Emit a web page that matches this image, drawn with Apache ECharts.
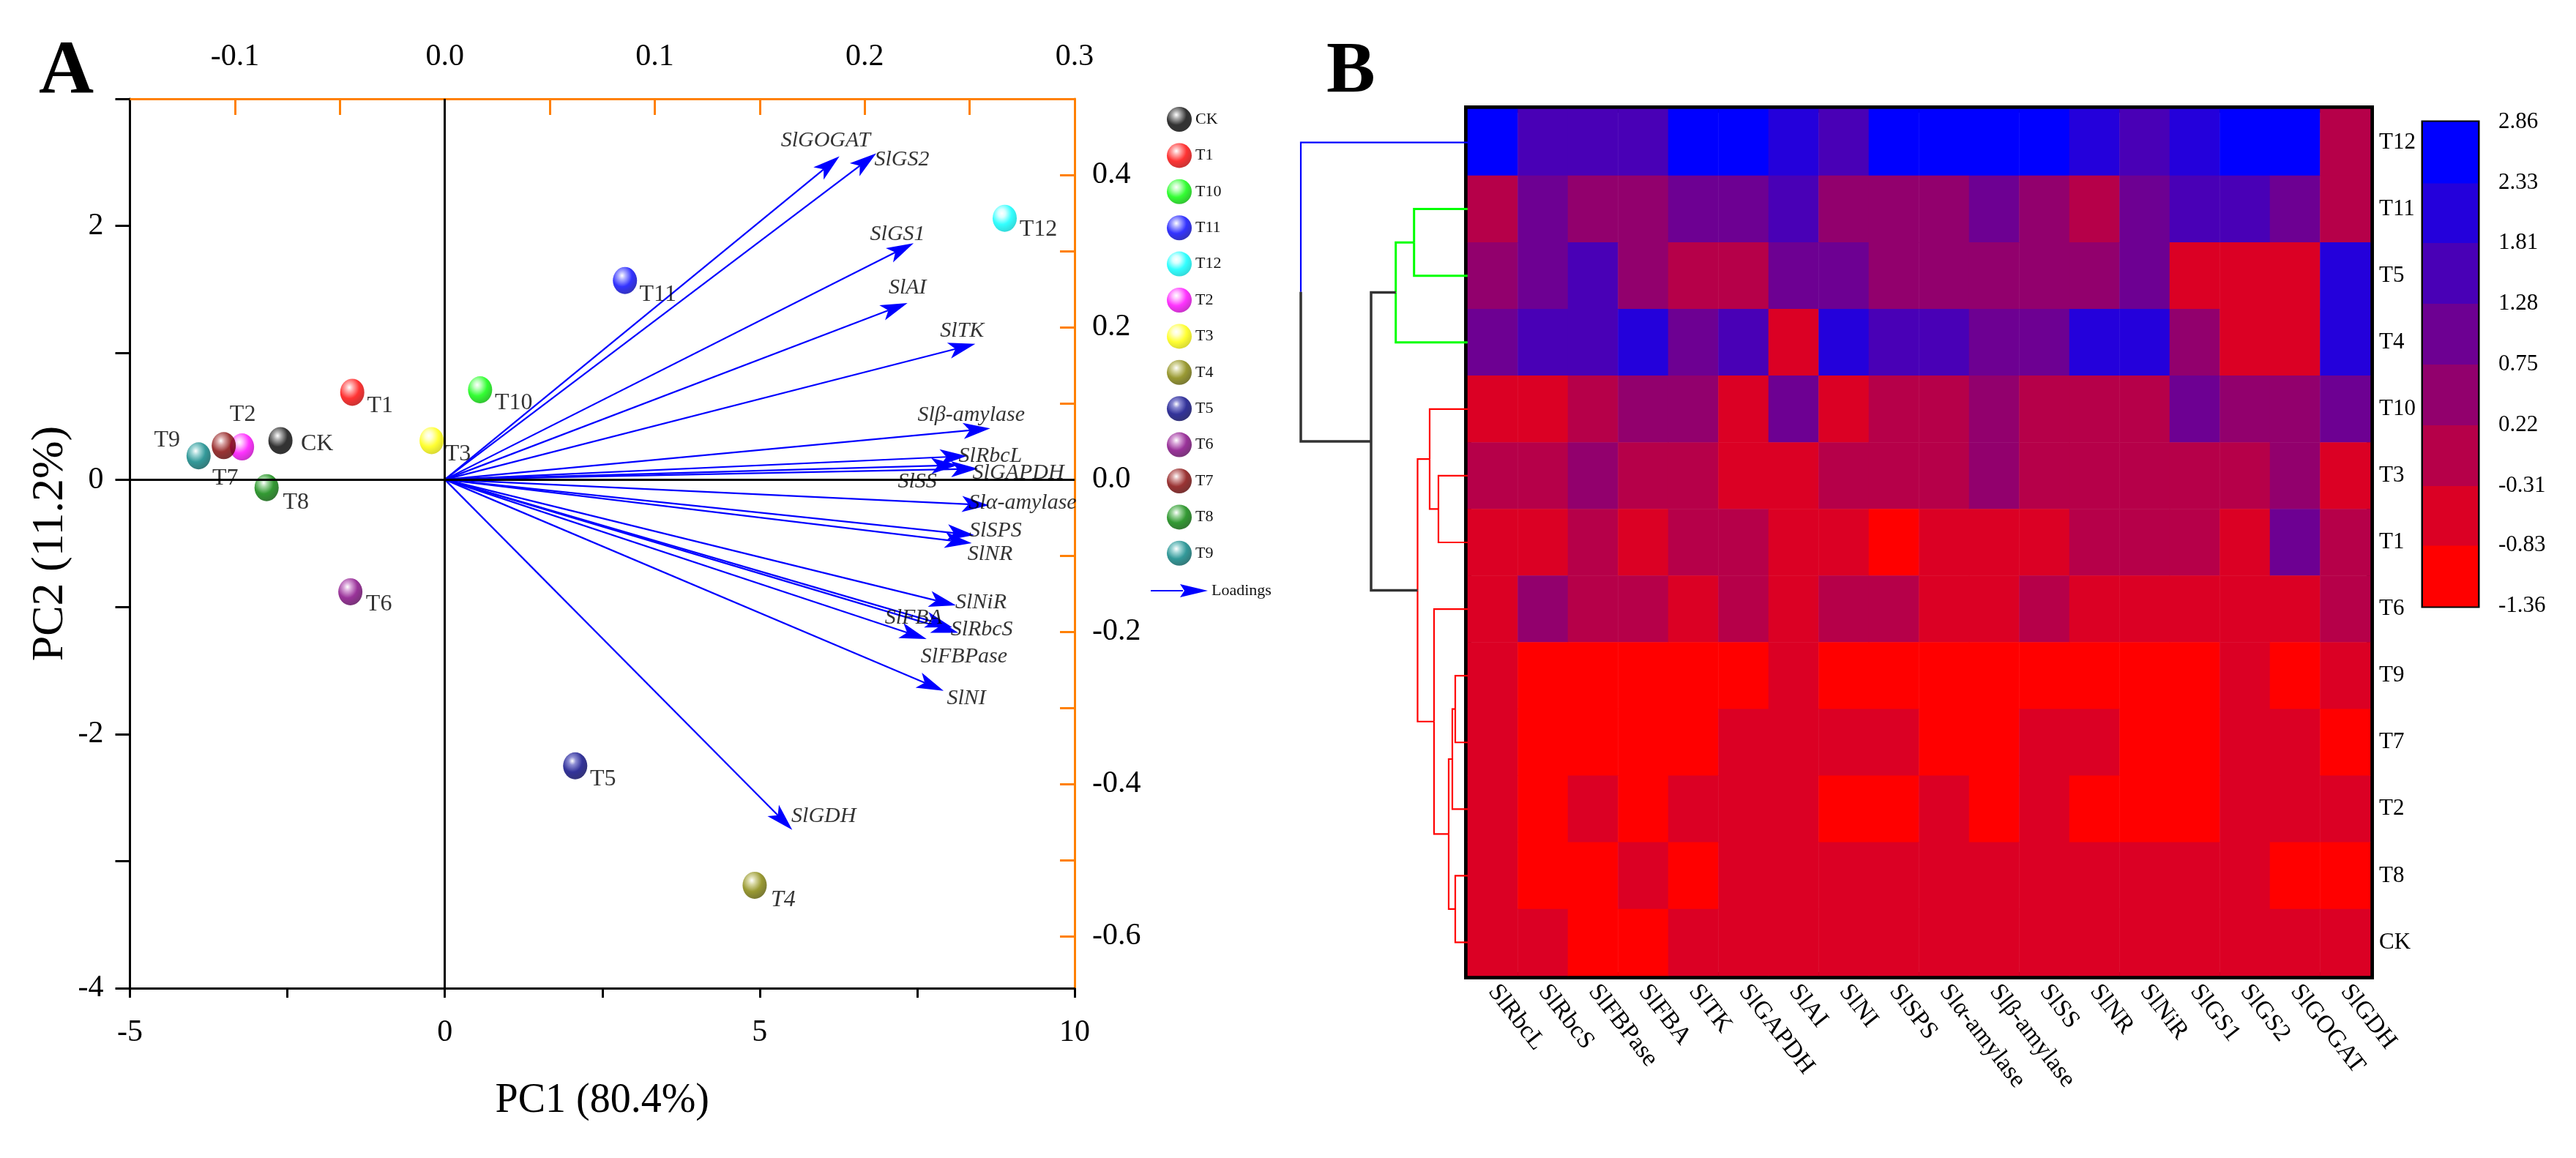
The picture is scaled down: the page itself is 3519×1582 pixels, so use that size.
<!DOCTYPE html>
<html><head><meta charset="utf-8">
<script src="https://cdn.jsdelivr.net/npm/echarts@6/dist/echarts.min.js"></script>
<style>html,body{margin:0;padding:0;background:#fff}#chart{width:3519px;height:1582px}</style>
</head><body><div id="chart"></div>
<script>
// ---------------- DATA ----------------
const sampleNames = ['CK','T1','T10','T11','T12','T2','T3','T4','T5','T6','T7','T8','T9'];
const pc1Scores  = [-2.61,-1.47,0.56,2.86,8.89,-3.22,-0.21,4.92,2.07,-1.50,-3.51,-2.83,-3.91];
const pc2Scores  = [0.31,0.69,0.71,1.57,2.06,0.26,0.31,-3.19,-2.25,-0.88,0.27,-0.06,0.19];

const loadingNames = ['SlGOGAT','SlGS2','SlGS1','SlAI','SlTK','Slβ-amylase','SlRbcL','SlGAPDH','SlSS','Slα-amylase','SlSPS','SlNR','SlNiR','SlFBA','SlRbcS','SlFBPase','SlNI','SlGDH'];
const loadingPC1 = [0.188,0.2055,0.2233,0.2204,0.2527,0.2598,0.2487,0.254,0.2446,0.2592,0.2522,0.251,0.2435,0.2417,0.2446,0.2295,0.2376,0.1655];
const loadingPC2 = [0.4245,0.4283,0.3105,0.2317,0.1781,0.0671,0.0309,0.0142,0.019,-0.0338,-0.073,-0.0835,-0.1653,-0.194,-0.2012,-0.2095,-0.2774,-0.46];

const pc1Ticks = [-5,-2.5,0,2.5,5,7.5,10];
const pc1Labels = [-5,0,5,10];
const pc2Ticks = [-4,-3,-2,-1,0,1,2,3];
const pc2Labels = [-4,-2,0,2];
const load1Ticks = [-0.1,-0.05,0,0.05,0.1,0.15,0.2,0.25];
const load1Labels = [-0.1,0,0.1,0.2,0.3];
const load2Ticks = [-0.6,-0.5,-0.4,-0.3,-0.2,-0.1,0,0.1,0.2,0.3,0.4];
const load2Labels = [-0.6,-0.4,-0.2,0,0.2,0.4];

const heatCols = ['SlRbcL','SlRbcS','SlFBPase','SlFBA','SlTK','SlGAPDH','SlAI','SlNI','SlSPS','Slα-amylase','Slβ-amylase','SlSS','SlNR','SlNiR','SlGS1','SlGS2','SlGOGAT','SlGDH'];
const heatRows = ['T12','T11','T5','T4','T10','T3','T1','T6','T9','T7','T2','T8','CK'];
const heatT12 = [2.6,1.55,1.55,1.55,2.6,2.6,2.07,1.55,2.6,2.6,2.6,2.6,2.07,1.55,2.07,2.6,2.6,-0.05];
const heatT11 = [-0.05,1.0,0.48,0.48,1.0,1.0,1.55,0.48,0.48,0.48,1.0,0.48,-0.05,1.0,1.55,1.55,1.0,-0.05];
const heatT5  = [0.48,1.0,1.55,0.48,-0.05,-0.05,1.0,1.0,0.48,0.48,0.48,0.48,0.48,1.0,-0.57,-0.57,-0.57,2.07];
const heatT4  = [1.0,1.55,1.55,2.07,1.0,1.55,-0.57,2.07,1.55,1.55,1.0,1.0,2.07,2.07,0.48,-0.57,-0.57,2.07];
const heatT10 = [-0.57,-0.57,-0.05,0.48,0.48,-0.57,1.0,-0.57,-0.05,-0.05,0.48,-0.05,-0.05,-0.05,1.0,0.48,0.48,1.0];
const heatT3  = [-0.05,-0.05,0.48,-0.05,-0.05,-0.57,-0.57,-0.05,-0.05,-0.05,0.48,-0.05,-0.05,-0.05,-0.05,-0.05,0.48,-0.57];
const heatT1  = [-0.57,-0.57,-0.05,-0.57,-0.05,-0.05,-0.57,-0.57,-1.1,-0.57,-0.57,-0.57,-0.05,-0.05,-0.05,-0.57,1.0,-0.05];
const heatT6  = [-0.57,0.48,-0.05,-0.05,-0.57,-0.05,-0.57,-0.05,-0.05,-0.57,-0.57,-0.05,-0.57,-0.57,-0.57,-0.57,-0.57,-0.05];
const heatT9  = [-0.57,-1.1,-1.1,-1.1,-1.1,-1.1,-0.57,-1.1,-1.1,-1.1,-1.1,-1.1,-1.1,-1.1,-1.1,-0.57,-1.1,-0.57];
const heatT7  = [-0.57,-1.1,-1.1,-1.1,-1.1,-0.57,-0.57,-0.57,-0.57,-1.1,-1.1,-0.57,-0.57,-1.1,-1.1,-0.57,-0.57,-1.1];
const heatT2  = [-0.57,-1.1,-0.57,-1.1,-0.57,-0.57,-0.57,-1.1,-1.1,-0.57,-1.1,-0.57,-1.1,-1.1,-1.1,-0.57,-0.57,-0.57];
const heatT8  = [-0.57,-1.1,-1.1,-0.57,-1.1,-0.57,-0.57,-0.57,-0.57,-0.57,-0.57,-0.57,-0.57,-0.57,-0.57,-0.57,-1.1,-1.1];
const heatCK  = [-0.57,-0.57,-1.1,-1.1,-0.57,-0.57,-0.57,-0.57,-0.57,-0.57,-0.57,-0.57,-0.57,-0.57,-0.57,-0.57,-0.57,-0.57];
const heatMatrix = [heatT12,heatT11,heatT5,heatT4,heatT10,heatT3,heatT1,heatT6,heatT9,heatT7,heatT2,heatT8,heatCK];

const colorBreaks = [-1.36,-0.83,-0.31,0.22,0.75,1.28,1.81,2.33,2.86];

// dendrogram merges (row clustering): node = [left child, right child] at height
const dendroNodes  = ['G','H','F','E','C','D','B','R','Gi','Go','A','Root'];
const dendroLeft   = ['T9','T8','G','F','T3','T6','T10','B','T11','Gi','Go','T12'];
const dendroRight  = ['T7','CK','T2','H','T1','E','C','D','T5','T4','R','A'];
const dendroHeight = [1.7,1.7,2.1,2.6,4.0,4.6,5.2,6.85,7.33,9.83,13.2,22.8];

// ---------------- STYLE ----------------
const FONT = 'Liberation Serif';
const heatColors = ['#FF0000','#DB0024','#B60049','#92006D','#6D0092','#4900B6','#2400DB','#0000FF'];
const sphereColors = {
  CK:['#000000','#9a9a9a','#000000'], T1:['#ff0000','#ff9a9a','#b00000'], T10:['#00ff00','#b0ffb0','#00a800'],
  T11:['#0000ff','#9a9aff','#0000a0'], T12:['#00ffff','#d0ffff','#00c8c8'], T2:['#ff00ff','#ffb0ff','#b000b0'],
  T3:['#ffff00','#ffffc0','#c8c800'], T4:['#808000','#d0d090','#505000'], T5:['#000080','#7070c8','#000050'],
  T6:['#800080','#d090d0','#500050'], T7:['#800000','#d09090','#500000'], T8:['#008000','#90d090','#005000'],
  T9:['#008080','#90d0d0','#005050']
};
const sampleLabelOffset = {CK:[50,5],T1:[38,19],T10:[46,18],T11:[45,19],T12:[46,15],T2:[1,-44],T3:[36,19],
  T4:[39,20],T5:[38,18],T6:[39,17],T7:[2,45],T8:[40,20],T9:[-43,-21]};
const loadingLabelOffset = {'SlGOGAT':[-19,-21],'SlGS2':[35,9],'SlGS1':[-22,-12],'SlAI':[0,-21],'SlTK':[-18,-18],
  'Slβ-amylase':[-26,-18],'SlRbcL':[32,0],'SlGAPDH':[55,6],'SlSS':[-56,23],'Slα-amylase':[46,-3],'SlSPS':[29,-6],
  'SlNR':[25,15],'SlNiR':[34,-4],'SlFBA':[-53,-13],'SlRbcS':[32,-4],'SlFBPase':[51,24],'SlNI':[31,10],'SlGDH':[43,-19]};
const dendroPalette = ['#FF0000','#00FF00','#333333','#0000FF'];
const dendroWidth = [2.2,3,3.5,2.2];
const dendroArmStyle = {G:[0,0],H:[0,0],F:[0,0],E:[0,0],C:[0,0],D:[0,0],B:[0,0],R:[0,0],Gi:[1,1],Go:[1,1],A:[2,2],Root:[3,2]};

function sphere(n){
  const c = sphereColors[n];
  return {type:'radial', x:0.38, y:0.32, r:0.75, colorStops:[
    {offset:0,color:'#ffffff'},{offset:0.2,color:c[1]},{offset:0.55,color:c[0]},{offset:1,color:c[2]}]};
}

// dendrogram arms from merges
const pos = {};
heatRows.forEach((r,i)=>{ pos[r] = {x:0, y:i}; });
const dendroArms = [];
dendroNodes.forEach((nd,i)=>{
  const a = pos[dendroLeft[i]], b = pos[dendroRight[i]], h = dendroHeight[i];
  const ym = (a.y + b.y) / 2;
  pos[nd] = {x:h, y:ym};
  dendroArms.push([a.x, a.y, h, ym, dendroArmStyle[nd][0]]);
  dendroArms.push([b.x, b.y, h, ym, dendroArmStyle[nd][1]]);
});

const heatData = [];
heatMatrix.forEach((row,r)=>row.forEach((v,c)=>heatData.push([c, r, v])));
const barData = colorBreaks.slice(0,-1).map((b,k)=>[b, colorBreaks[k+1], k]);

// ---------------- OPTION ----------------
const axisFont = {fontFamily:FONT, fontSize:42, color:'#000'};
const ORANGE = '#FF8000';

const series = [];
// zero lines
series.push({type:'scatter', name:'zero', xAxisIndex:0, yAxisIndex:0, data:[], z:1, silent:true,
  markLine:{silent:true, symbol:['none','none'], label:{show:false}, animation:false,
    lineStyle:{color:'#000', width:3, type:'solid'}, data:[{xAxis:0},{yAxis:0}]}});
// loading arrows
series.push({type:'custom', name:'Loadings', xAxisIndex:1, yAxisIndex:1, z:2, silent:true,
  itemStyle:{color:'#0000FF'},
  data: loadingNames.map((n,i)=>[loadingPC1[i], loadingPC2[i]]),
  renderItem:function(params, api){
    const o = api.coord([0,0]);
    const t = api.coord([api.value(0), api.value(1)]);
    const dx = t[0]-o[0], dy = t[1]-o[1];
    const len = Math.sqrt(dx*dx+dy*dy);
    const ux = dx/len, uy = dy/len, nx = -uy, ny = ux;
    const L = 37, W = 11, N = 28;
    const bx = t[0]-ux*L, by = t[1]-uy*L;
    const notch = [t[0]-ux*N, t[1]-uy*N];
    return {type:'group', children:[
      {type:'line', shape:{x1:o[0], y1:o[1], x2:notch[0], y2:notch[1]}, style:{stroke:'#0000FF', lineWidth:2.2}},
      {type:'polygon', shape:{points:[t,[bx+nx*W, by+ny*W], notch, [bx-nx*W, by-ny*W]]}, style:{fill:'#0000FF'}}
    ]};
  }});
// loading labels
series.push({type:'scatter', name:'loadingLabels', xAxisIndex:1, yAxisIndex:1, z:5, silent:true,
  symbolSize:1, itemStyle:{color:'rgba(0,0,0,0)'},
  data: loadingNames.map((n,i)=>({name:n, value:[loadingPC1[i], loadingPC2[i]], label:{offset:loadingLabelOffset[n]}})),
  label:{show:true, position:'inside', formatter:p=>p.name, fontFamily:FONT, fontStyle:'italic', fontSize:30, color:'#000', textBorderWidth:0}});
// sample scores
sampleNames.forEach((n,i)=>{
  series.push({type:'scatter', name:n, xAxisIndex:0, yAxisIndex:0, z:4, symbol:'circle', symbolSize:[33,37],
    itemStyle:{color:sphere(n)},
    label:{show:true, position:'inside', offset:sampleLabelOffset[n], formatter:n, fontFamily:FONT, fontSize:32,
      color:'#000', fontStyle:n==='T4'?'italic':'normal', textBorderWidth:0},
    data:[[pc1Scores[i], pc2Scores[i]]]});
});
// dendrogram
series.push({type:'custom', name:'dendro', xAxisIndex:2, yAxisIndex:2, silent:true, clip:false,
  data: dendroArms,
  renderItem:function(params, api){
    const p0 = api.coord([api.value(0), api.value(1)]);
    const p1 = api.coord([api.value(2), api.value(1)]);
    const p2 = api.coord([api.value(2), api.value(3)]);
    const k = api.value(4);
    return {type:'polyline', shape:{points:[p0,p1,p2]}, style:{stroke:dendroPalette[k], lineWidth:dendroWidth[k], fill:null}};
  }});
// heatmap
const heatIndex = series.length;
series.push({type:'heatmap', name:'heat', xAxisIndex:3, yAxisIndex:3, data:heatData, silent:true, progressive:0,
  itemStyle:{borderWidth:0}, emphasis:{disabled:true}});
// colorbar
series.push({type:'custom', name:'colorbar', xAxisIndex:4, yAxisIndex:4, silent:true, data:barData,
  renderItem:function(params, api){
    const p1 = api.coord([0, api.value(1)]);
    const p2 = api.coord([1, api.value(0)]);
    return {type:'rect', shape:{x:p1[0], y:p1[1]-0.5, width:p2[0]-p1[0], height:p2[1]-p1[1]+1}, style:{fill:heatColors[api.value(2)]}};
  }});

const option = {
  animation:false,
  backgroundColor:'#fff',
  graphic:[
    {type:'text', x:53, y:100, style:{text:'A', font:'bold 104px "Liberation Serif"', fill:'#000', align:'left', verticalAlign:'middle'}},
    {type:'text', x:1812, y:99, style:{text:'B', font:'bold 100px "Liberation Serif"', fill:'#000', align:'left', verticalAlign:'middle'}}
  ],
  legend:[
    {data:sampleNames, orient:'vertical', left:1594, top:146, padding:0, itemWidth:34, itemHeight:37, itemGap:15.4, icon:'circle',
      selectedMode:false, textStyle:{fontFamily:FONT, fontSize:22, color:'#111'}},
    {data:[{name:'Loadings', icon:'path://M0,8L44,8L44,10L0,10Z M40,0L78,9L40,18L46,9Z'}], left:1572, top:796, padding:0,
      itemWidth:78, itemHeight:18, selectedMode:false, textStyle:{fontFamily:FONT, fontSize:22, color:'#111'}}
  ],
  visualMap:{type:'piecewise', show:false, seriesIndex:heatIndex, dimension:2,
    pieces: colorBreaks.slice(0,-1).map((b,k)=>(k===7?{gte:b, lte:colorBreaks[k+1], color:heatColors[k]}:{gte:b, lt:colorBreaks[k+1], color:heatColors[k]}))},
  grid:[
    {left:177.5, right:2051, top:135, bottom:232},
    {left:1777, top:149, width:228, height:1184},
    {left:2005, top:149, width:1233, height:1184, show:true, borderColor:'#000', borderWidth:10, backgroundColor:'rgba(0,0,0,0)'},
    {left:3310, top:167, width:75, height:661, show:true, borderColor:'#000', borderWidth:5, backgroundColor:'rgba(0,0,0,0)'}
  ],
  xAxis:[
    {type:'value', gridIndex:0, position:'bottom', min:-5, max:10,
      axisLine:{onZero:false, lineStyle:{color:'#000', width:3}},
      axisTick:{show:true, inside:false, length:13, customValues:pc1Ticks, lineStyle:{color:'#000', width:3}},
      axisLabel:Object.assign({customValues:pc1Labels, margin:40}, axisFont),
      splitLine:{show:false},
      name:'PC1 (80.4%)', nameLocation:'middle', nameGap:126, nameTextStyle:{fontFamily:FONT, fontSize:56, color:'#000'}},
    {type:'value', gridIndex:0, position:'top', min:-0.15, max:0.3,
      axisLine:{onZero:false, lineStyle:{color:ORANGE, width:3}},
      axisTick:{show:true, inside:true, length:22, customValues:load1Ticks, lineStyle:{color:ORANGE, width:3}},
      axisLabel:Object.assign({customValues:load1Labels, margin:36, formatter:v=>Number(v).toFixed(1)}, axisFont),
      splitLine:{show:false}},
    {type:'value', gridIndex:1, min:0, max:22.8, inverse:true, show:false},
    {type:'category', gridIndex:2, data:heatCols, position:'bottom', axisLine:{show:false}, axisTick:{show:false},
      axisLabel:{interval:0, rotate:-52, margin:16, fontFamily:FONT, fontSize:34, color:'#000'}, splitLine:{show:false}},
    {type:'value', gridIndex:3, min:0, max:1, show:false}
  ],
  yAxis:[
    {type:'value', gridIndex:0, position:'left', min:-4, max:3,
      axisLine:{onZero:false, lineStyle:{color:'#000', width:3}},
      axisTick:{show:true, inside:false, length:20, customValues:pc2Ticks, lineStyle:{color:'#000', width:3}},
      axisLabel:Object.assign({customValues:pc2Labels, margin:36}, axisFont),
      splitLine:{show:false},
      name:'PC2 (11.2%)', nameLocation:'middle', nameGap:78, nameTextStyle:{fontFamily:FONT, fontSize:62, color:'#000'}},
    {type:'value', gridIndex:0, position:'right', min:-0.668, max:0.5,
      axisLine:{onZero:false, lineStyle:{color:ORANGE, width:3}},
      axisTick:{show:true, inside:true, length:20, customValues:load2Ticks, lineStyle:{color:ORANGE, width:3}},
      axisLabel:Object.assign({customValues:load2Labels, margin:24, formatter:v=>Number(v).toFixed(1)}, axisFont),
      splitLine:{show:false}},
    {type:'value', gridIndex:1, min:-0.5, max:12.5, inverse:true, show:false},
    {type:'category', gridIndex:2, data:heatRows, inverse:true, position:'right', axisLine:{show:false}, axisTick:{show:false},
      axisLabel:{margin:12, fontFamily:FONT, fontSize:31, color:'#000'}, splitLine:{show:false}},
    {type:'value', gridIndex:3, position:'right', min:-1.36, max:2.86,
      axisLine:{show:false},
      axisTick:{show:true, inside:false, length:20, customValues:colorBreaks, lineStyle:{color:'#000', width:2.5}},
      axisLabel:{customValues:colorBreaks, formatter:v=>Number(v).toFixed(2), margin:28, fontFamily:FONT, fontSize:31, color:'#000'},
      splitLine:{show:false}}
  ],
  series: series
};

const chart = echarts.init(document.getElementById('chart'), null, {renderer:'canvas'});
chart.setOption(option);
</script></body></html>
